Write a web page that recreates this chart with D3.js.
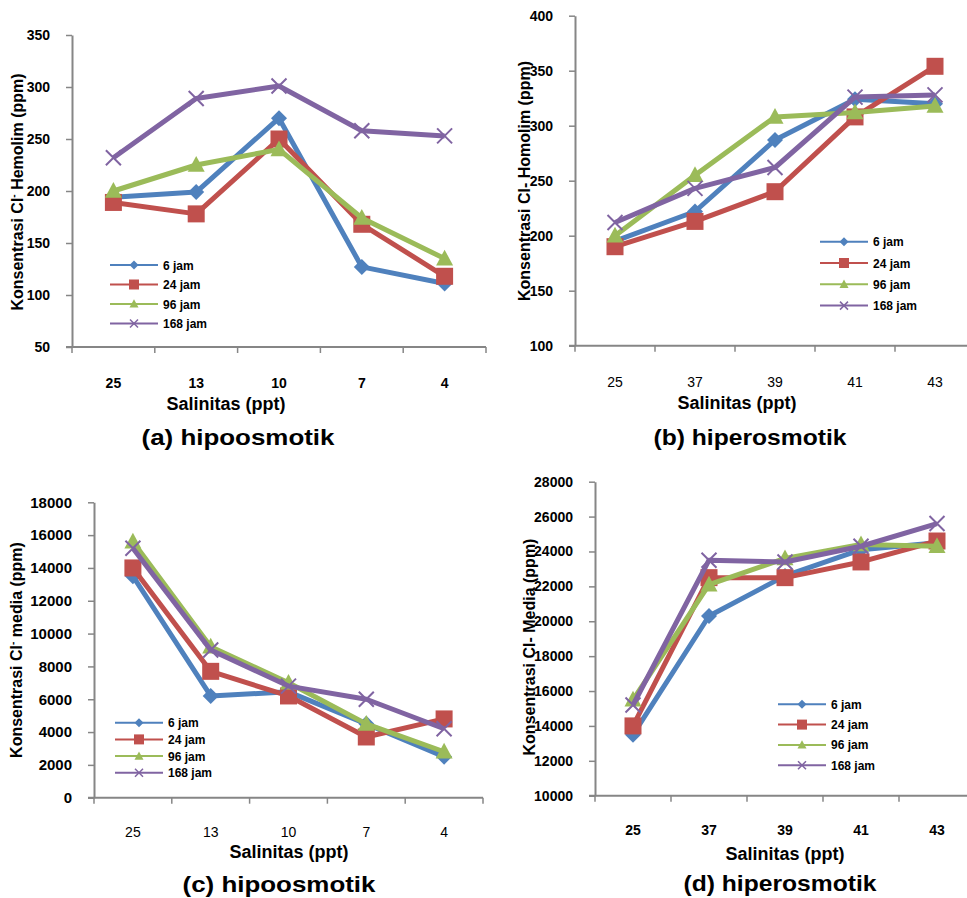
<!DOCTYPE html>
<html>
<head>
<meta charset="utf-8">
<script src="https://cdn.jsdelivr.net/npm/d3@7"></script>
<style>
  html, body { margin: 0; padding: 0; background: #fff; }
  svg { display: block; font-family: "Liberation Sans", Arial, sans-serif; }
</style>
</head>
<body>
<div id="chart"></div>
<script>
// ---------- DATA ----------
const categoriesHipo = ["25", "13", "10", "7", "4"];
const categoriesHiper = ["25", "37", "39", "41", "43"];
const seriesNames = ["6 jam", "24 jam", "96 jam", "168 jam"];
const seriesColors = ["#4F81BD", "#C0504D", "#9BBB59", "#8064A2"];
const seriesMarkers = ["diamond", "square", "triangle", "x"];

// (a) hipoosmotik – Cl- hemolim (ppm), rows = 6, 24, 96, 168 jam
const hemolimHipo = [
  [194, 199, 270, 127, 111],
  [189, 178, 250, 168, 118],
  [200, 225, 240, 174, 135],
  [232, 289, 301, 258, 253]
];
// (b) hiperosmotik – Cl- hemolim (ppm)
const hemolimHiper = [
  [195, 222, 287, 324, 320],
  [190, 213, 240, 308, 354],
  [200, 255, 308, 312, 318],
  [212, 243, 262, 326, 328]
];
// (c) hipoosmotik – Cl- media (ppm)
const mediaHipo = [
  [13500, 6200, 6450, 4500, 2500],
  [14000, 7700, 6200, 3700, 4800],
  [15600, 9200, 7000, 4500, 2800],
  [15200, 9000, 6800, 6000, 4200]
];
// (d) hiperosmotik – Cl- media (ppm)
const mediaHiper = [
  [13500, 20300, 22600, 24100, 24500],
  [14000, 22500, 22500, 23400, 24600],
  [15500, 22100, 23600, 24400, 24300],
  [15200, 23500, 23400, 24300, 25600]
];

const yTicksA = [50, 100, 150, 200, 250, 300, 350];
const yTicksB = [100, 150, 200, 250, 300, 350, 400];
const yTicksC = [0, 2000, 4000, 6000, 8000, 10000, 12000, 14000, 16000, 18000];
const yTicksD = [10000, 12000, 14000, 16000, 18000, 20000, 22000, 24000, 26000, 28000];

const xAxisTitle = "Salinitas (ppt)";
const panelTitles = ["(a) hipoosmotik", "(b) hiperosmotik", "(c) hipoosmotik", "(d) hiperosmotik"];

// ---------- LAYOUT ----------
const W = 967, H = 898;
const FONT = '"Liberation Sans", Arial, sans-serif';
const AXIS_COLOR = "#868686";

const svg = d3.select("#chart").append("svg")
  .attr("width", W).attr("height", H)
  .attr("viewBox", `0 0 ${W} ${H}`);

const panels = [
  {
    cats: categoriesHipo, values: hemolimHipo, ticks: yTicksA,
    x0: 72, x1: 486, yTop: 35, yBot: 347,
    yTitle: [["Konsentrasi Cl", false], ["-", true], [" Hemolim (ppm)", false]],
    yTitlePos: [23, 192], xBold: true, yFont: 14,
    legend: { x: 110, y: 265, dy: 19.5 },
    tickBase: 388, axisTitle: { x: 226, y: 410 }, title: { x: 238, y: 445 }
  },
  {
    cats: categoriesHiper, values: hemolimHiper, ticks: yTicksB,
    x0: 575, x1: 975, yTop: 15.7, yBot: 345.7,
    yTitle: [["Konsentrasi Cl- Homolim (ppm)", false]],
    yTitlePos: [530, 181], xBold: false, yFont: 14,
    legend: { x: 820, y: 241.7, dy: 21.3 },
    tickBase: 387, axisTitle: { x: 737, y: 409 }, title: { x: 750, y: 445 }
  },
  {
    cats: categoriesHipo, values: mediaHipo, ticks: yTicksC,
    x0: 94, x1: 483, yTop: 502.3, yBot: 797.7,
    yTitle: [["Konsentrasi Cl", false], ["-", true], [" media (ppm)", false]],
    yTitlePos: [22, 650], xBold: false, yFont: 15,
    legend: { x: 115, y: 722.7, dy: 16.7 },
    tickBase: 837, axisTitle: { x: 289, y: 858 }, title: { x: 279, y: 892 }
  },
  {
    cats: categoriesHiper, values: mediaHiper, ticks: yTicksD,
    x0: 595, x1: 975, yTop: 481.7, yBot: 795.7,
    yTitle: [["Konsentrasi Cl- Media (ppm)", false]],
    yTitlePos: [535, 647], xBold: true, yFont: 14,
    legend: { x: 778, y: 704.3, dy: 20.3 },
    tickBase: 835, axisTitle: { x: 785, y: 860 }, title: { x: 780, y: 891 }
  }
];

function drawMarker(g, type, cx, cy, s, color, xStroke) {
  if (type === "diamond") {
    g.append("path")
      .attr("d", `M${cx},${cy - s}L${cx + s},${cy}L${cx},${cy + s}L${cx - s},${cy}Z`)
      .attr("fill", color);
  } else if (type === "square") {
    g.append("rect")
      .attr("x", cx - s).attr("y", cy - s)
      .attr("width", 2 * s).attr("height", 2 * s)
      .attr("fill", color);
  } else if (type === "triangle") {
    g.append("path")
      .attr("d", `M${cx},${cy - s * 1.05}L${cx + s},${cy + s * 0.8}L${cx - s},${cy + s * 0.8}Z`)
      .attr("fill", color);
  } else {
    g.append("path")
      .attr("d", `M${cx - s},${cy - s}L${cx + s},${cy + s}M${cx - s},${cy + s}L${cx + s},${cy - s}`)
      .attr("stroke", color).attr("stroke-width", xStroke).attr("fill", "none");
  }
}

panels.forEach((p, pi) => {
  const g = svg.append("g");

  const x = d3.scaleBand().domain(p.cats).range([p.x0, p.x1]).padding(0);
  const y = d3.scaleLinear().domain([p.ticks[0], p.ticks[p.ticks.length - 1]]).range([p.yBot, p.yTop]);
  const cx = c => x(c) + x.bandwidth() / 2;

  // Y axis
  const yAxis = d3.axisLeft(y).tickValues(p.ticks).tickSize(6).tickSizeOuter(0).tickPadding(16)
    .tickFormat(d3.format("d"));
  const ya = g.append("g").attr("transform", `translate(${p.x0},0)`).call(yAxis);
  ya.select(".domain").attr("stroke", AXIS_COLOR).attr("stroke-width", 2);
  ya.selectAll(".tick line").attr("stroke", AXIS_COLOR).attr("stroke-width", 1.5);
  ya.selectAll(".tick text")
    .attr("font-family", FONT).attr("font-size", p.yFont).attr("font-weight", "bold")
    .attr("fill", "#000");

  // X axis line + ticks between categories
  g.append("line")
    .attr("x1", p.x0 - 6).attr("x2", p.x1).attr("y1", p.yBot).attr("y2", p.yBot)
    .attr("stroke", AXIS_COLOR).attr("stroke-width", 2);
  const tickXs = p.cats.map(c => x(c)).concat([x.range()[1]]);
  g.selectAll(".xtick").data(tickXs).enter().append("line")
    .attr("x1", d => d).attr("x2", d => d)
    .attr("y1", p.yBot).attr("y2", p.yBot + 6)
    .attr("stroke", AXIS_COLOR).attr("stroke-width", 1.5);
  g.selectAll(".xlab").data(p.cats).enter().append("text")
    .attr("x", d => cx(d)).attr("y", p.tickBase)
    .attr("text-anchor", "middle")
    .attr("font-family", FONT).attr("font-size", 14)
    .attr("font-weight", p.xBold ? "bold" : "normal")
    .attr("fill", "#000")
    .text(d => d);

  // Axis title
  g.append("text")
    .attr("x", p.axisTitle.x).attr("y", p.axisTitle.y)
    .attr("text-anchor", "middle")
    .attr("font-family", FONT).attr("font-size", 18).attr("font-weight", "bold")
    .attr("fill", "#000")
    .text(xAxisTitle);

  // Panel title
  g.append("text")
    .attr("x", p.title.x).attr("y", p.title.y)
    .attr("text-anchor", "middle")
    .attr("font-family", FONT).attr("font-size", 22).attr("font-weight", "bold")
    .attr("textLength", 193).attr("lengthAdjust", "spacingAndGlyphs")
    .attr("fill", "#000")
    .text(panelTitles[pi]);

  // Y title
  const yt = g.append("text")
    .attr("transform", `translate(${p.yTitlePos[0]},${p.yTitlePos[1]}) rotate(-90)`)
    .attr("text-anchor", "middle")
    .attr("font-family", FONT).attr("font-size", 16).attr("font-weight", "bold")
    .attr("fill", "#000");
  p.yTitle.forEach(([t, sup]) => {
    const ts = yt.append("tspan").text(t);
    if (sup) ts.attr("font-size", 10).attr("dy", -6);
    else if (t.startsWith(" ") && p.yTitle.length > 1) ts.attr("dy", 6);
  });

  // Series
  const line = d3.line().x((d, i) => cx(p.cats[i])).y(d => y(d));
  p.values.forEach((vals, si) => {
    const sg = g.append("g");
    sg.append("path").datum(vals)
      .attr("d", line)
      .attr("fill", "none")
      .attr("stroke", seriesColors[si])
      .attr("stroke-width", 5)
      .attr("stroke-linejoin", "round");
    vals.forEach((v, i) => {
      const size = seriesMarkers[si] === "diamond" ? 8 : (seriesMarkers[si] === "x" ? 7.5 : 8.5);
      drawMarker(sg, seriesMarkers[si], cx(p.cats[i]), y(v), size, seriesColors[si], 2);
    });
  });

  // Legend
  const lg = g.append("g");
  seriesNames.forEach((name, si) => {
    const ly = p.legend.y + si * p.legend.dy;
    lg.append("line")
      .attr("x1", p.legend.x).attr("x2", p.legend.x + 48)
      .attr("y1", ly).attr("y2", ly)
      .attr("stroke", seriesColors[si]).attr("stroke-width", 2);
    const ms = seriesMarkers[si] === "square" ? 5 : (seriesMarkers[si] === "x" ? 4 : 4.5);
    drawMarker(lg, seriesMarkers[si], p.legend.x + 24, ly, ms, seriesColors[si], 1.5);
    lg.append("text")
      .attr("x", p.legend.x + 53).attr("y", ly + 4.5)
      .attr("font-family", FONT).attr("font-size", 12).attr("font-weight", "bold")
      .attr("fill", "#000")
      .text(name);
  });
});
</script>
</body>
</html>
